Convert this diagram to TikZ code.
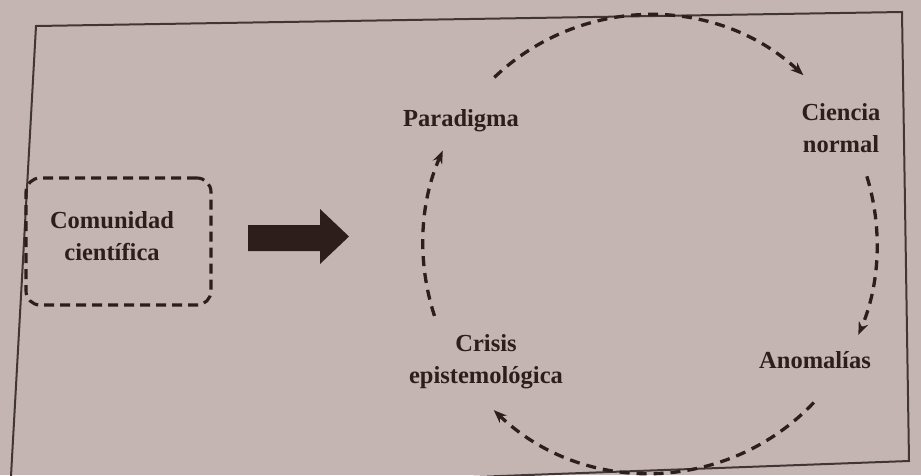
\documentclass[tikz,border=0pt]{standalone}
\usepackage{fontspec}
\setmainfont{Liberation Serif}
\usetikzlibrary{arrows.meta,calc}
\definecolor{paper}{RGB}{196,181,179}
\definecolor{ink}{RGB}{45,30,28}
\definecolor{framec}{RGB}{66,54,52}
\begin{document}
\begin{tikzpicture}[x=1pt,y=-1pt,
  lbl/.style={font=\bfseries\fontsize{24.5}{32}\selectfont, text=ink, align=center, inner sep=0pt},
  cyc/.style={draw=ink, line width=3.3pt, dash pattern=on 10pt off 7pt, -{Stealth[length=13pt,width=10pt]}},
  boxd/.style={draw=ink, line width=3.1pt, dash pattern=on 10pt off 6pt, rounded corners=14pt, minimum width=185pt, minimum height=127pt, inner sep=0pt},
  bigarrow/.style={fill=ink}]
\clip (0,0) rectangle (921,475);
\fill[paper] (0,0) rectangle (921,475);
% frame
\draw[framec, line width=2pt, line join=miter] (36,26) -- (902,12) -- (909,461) -- (10,494) -- cycle;
% left box
\node[boxd] (combox) at (118.5,241.5) {};
\node[lbl] (com) at (112,236) {Comunidad\\científica};
% big arrow
\fill[bigarrow] (248,225) -- (320,225) -- (320,209) -- (349,236.5) -- (320,264) -- (320,251) -- (248,251) -- cycle;
% labels
\node[lbl, anchor=base] (par) at (461,126) {Paradigma};
\node[lbl] (cie) at (841,128) {Ciencia\\normal};
\node[lbl, anchor=base] (ano) at (815,368) {Anomalías};
\node[lbl] (cri) at (486,362) {Crisis\\epistemológica};
% cycle
\coordinate (O) at (650,244);
\coordinate (s1) at ($(O)+(133.3:227pt and 229pt)$);
\coordinate (s2) at ($(O)+(17.2:227pt and 229pt)$);
\coordinate (s3) at ($(O)+(-43.8:227pt and 229pt)$);
\coordinate (s4) at ($(O)+(198.3:227pt and 229pt)$);
\draw[cyc] (s1) arc[start angle=133.3, end angle=47.5, x radius=227pt, y radius=229pt];
\draw[cyc] (s2) arc[start angle=17.2, end angle=-23.4, x radius=227pt, y radius=229pt];
\draw[cyc] (s3) arc[start angle=-43.8, end angle=-133.5, x radius=227pt, y radius=229pt];
\draw[cyc] (s4) arc[start angle=198.3, end angle=155.9, x radius=227pt, y radius=229pt];
\end{tikzpicture}
\end{document}
